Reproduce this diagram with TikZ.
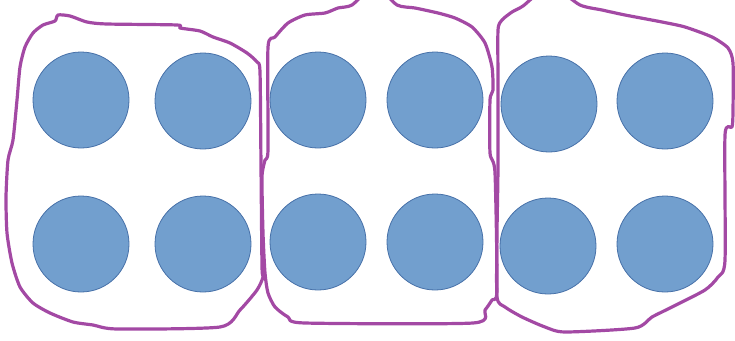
\documentclass[tikz,border=0pt]{standalone}
\definecolor{discfill}{RGB}{114,159,206}
\definecolor{discline}{RGB}{70,112,168}
\definecolor{loopline}{RGB}{163,73,164}
\tikzset{
  disc/.style={circle,fill=discfill,draw=discline,line width=0.8pt,minimum size=96pt,inner sep=0pt},
  loop/.style={draw=loopline,line width=3.2pt,line join=round}
}
\begin{document}
\begin{tikzpicture}[x=1pt,y=-1pt]
\useasboundingbox (0,0) rectangle (735,340);
\clip (0,0) rectangle (735,340);

\node[disc] (a1) at (81,100) {};
\node[disc] (a2) at (203,101) {};
\node[disc] (a3) at (81,244) {};
\node[disc] (a4) at (203,244) {};

\node[disc] (b1) at (318,100) {};
\node[disc] (b2) at (435,100) {};
\node[disc] (b3) at (318,242) {};
\node[disc] (b4) at (435,242) {};

\node[disc] (c1) at (549,104) {};
\node[disc] (c2) at (665,101) {};
\node[disc] (c3) at (548,246) {};
\node[disc] (c4) at (665,244) {};

\draw[loop]
plot[smooth cycle,tension=0.4] coordinates {(58,15) (70,16) (87,22) (107,24) (177,25) (180,28) (200,31)
 (213,37) (230,43) (247,53) (257,62) (260,72) (261,167) (262,267) (263,277) (257,290) (240,310)
 (220,327) (117,329) (93,325) (73,322) (50,313) (33,303) (20,287) (12,263) (7,233) (6,197)
 (8,160) (13,140) (17,100) (20,67) (25,47) (33,33) (43,25) (55,21)};

\draw[loop]
plot[smooth cycle,tension=0.4] coordinates {(268,47) (275,37) (288,23) (305,15) (325,13) (338,8) (352,5)
 (375,-14) (397,5) (415,8) (438,13) (455,18) (472,27) (485,43) (492,67) (493,90) (490,100) (490,153)
 (495,173) (497,290) (492,300) (485,310) (473,323) (305,323) (288,317) (275,307) (268,293)
 (265,273) (263,233) (262,177) (265,160) (268,150)};

\draw[loop]
plot[smooth cycle,tension=0.4] coordinates {(498,30) (502,20) (512,12) (523,6) (550,-14) (580,5) (602,10)
 (625,15) (662,22) (685,27) (712,37) (728,48) (733,63) (733,110) (732,127) (725,135) (725,260)
 (718,277) (705,290) (672,307) (652,317) (635,328) (565,332) (545,327) (522,317) (505,307)
 (497,297) (497,233) (498,167) (498,83)};
\end{tikzpicture}
\end{document}
